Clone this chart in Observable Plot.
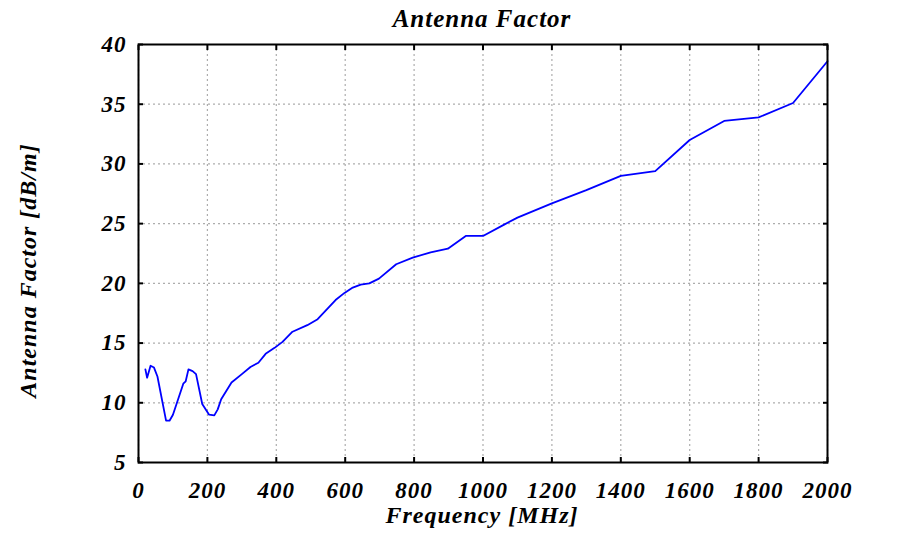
<!DOCTYPE html>
<html>
<head>
<meta charset="utf-8">
<script src="https://cdn.jsdelivr.net/npm/d3@7"></script>
<script src="https://cdn.jsdelivr.net/npm/@observablehq/plot@0.6"></script>
<style>
  html, body { margin: 0; padding: 0; background: #fff; }
  #chart svg { display: block; }
</style>
</head>
<body>
<div id="chart"></div>
<script>
const title = "Antenna Factor";
const xLabel = "Frequency [MHz]";
const yLabel = "Antenna Factor [dB/m]";
const xTicks = [0, 200, 400, 600, 800, 1000, 1200, 1400, 1600, 1800, 2000];
const yTicks = [5, 10, 15, 20, 25, 30, 35, 40];

const frequency = [20, 25, 35, 45, 55, 80, 90, 100, 130, 137, 145, 157, 167, 185, 205, 220, 230, 240, 270, 300, 325, 348, 369, 395, 418, 447, 490, 520, 572, 598, 622, 645, 670, 698, 748, 796, 848, 898, 950, 1000, 1060, 1100, 1200, 1300, 1400, 1500, 1600, 1700, 1800, 1900, 2000];
const factor = [12.8, 12.1, 13.1, 12.95, 12.2, 8.5, 8.5, 9.0, 11.6, 11.8, 12.8, 12.65, 12.4, 9.9, 9.0, 8.95, 9.45, 10.3, 11.7, 12.4, 13.0, 13.35, 14.1, 14.6, 15.1, 15.95, 16.5, 17.0, 18.6, 19.2, 19.65, 19.9, 20.0, 20.4, 21.6, 22.15, 22.6, 22.9, 23.97, 23.97, 24.9, 25.5, 26.7, 27.8, 29.0, 29.4, 32.0, 33.6, 33.9, 35.1, 38.6];

const data = frequency.map((f, i) => ({f, v: factor[i]}));

const font = "'Liberation Serif', 'DejaVu Serif', serif";
const textStyle = {fontFamily: font, fontWeight: "bold", fontStyle: "italic", textAnchor: "middle", lineAnchor: "middle"};
const fmt = d => `${d}`;

const chart = Plot.plot({
  width: 907,
  height: 551,
  marginLeft: 138,
  marginRight: 80,
  marginTop: 44,
  marginBottom: 89,
  style: {fontFamily: font, fontWeight: "bold", fontStyle: "italic", fontSize: "23px", letterSpacing: "1px", background: "#fff", color: "#000"},
  x: {domain: [0, 2000]},
  y: {domain: [5, 40]},
  marks: [
    Plot.gridX(xTicks, {stroke: "#999", strokeOpacity: 0.8, strokeDasharray: "2,3", strokeWidth: 1.2}),
    Plot.gridY(yTicks, {stroke: "#999", strokeOpacity: 0.8, strokeDasharray: "2,3", strokeWidth: 1.2}),
    Plot.axisX(xTicks, {anchor: "bottom", tickSize: 0, tickPadding: 19, label: null, fontSize: 23, tickFormat: fmt}),
    Plot.axisY(yTicks, {anchor: "left", tickSize: 0, tickPadding: 12, label: null, fontSize: 23, tickFormat: fmt}),
    Plot.axisX(xTicks, {anchor: "bottom", tickSize: 5, dy: -5, text: null, label: null, strokeWidth: 2}),
    Plot.axisX(xTicks, {anchor: "top", tickSize: 5, dy: 5, text: null, label: null, strokeWidth: 2}),
    Plot.axisY(yTicks, {anchor: "left", tickSize: 5, dx: 5, text: null, label: null, strokeWidth: 2}),
    Plot.axisY(yTicks, {anchor: "right", tickSize: 5, dx: -5, text: null, label: null, strokeWidth: 2}),
    Plot.line(data, {x: "f", y: "v", stroke: "#0000ff", strokeWidth: 1.8}),
    Plot.frame({stroke: "#000", strokeWidth: 2}),
    Plot.text([title], {frameAnchor: "top", dy: -25.5, dx: -1, fontSize: 25, ...textStyle}),
    Plot.text([xLabel], {frameAnchor: "bottom", dy: 53, dx: -1, fontSize: 24, letterSpacing: 1.5, ...textStyle}),
    Plot.text([yLabel], {frameAnchor: "left", dx: -110, dy: 17, rotate: -90, fontSize: 24, ...textStyle})
  ]
});
document.getElementById("chart").appendChild(chart);
</script>
</body>
</html>
